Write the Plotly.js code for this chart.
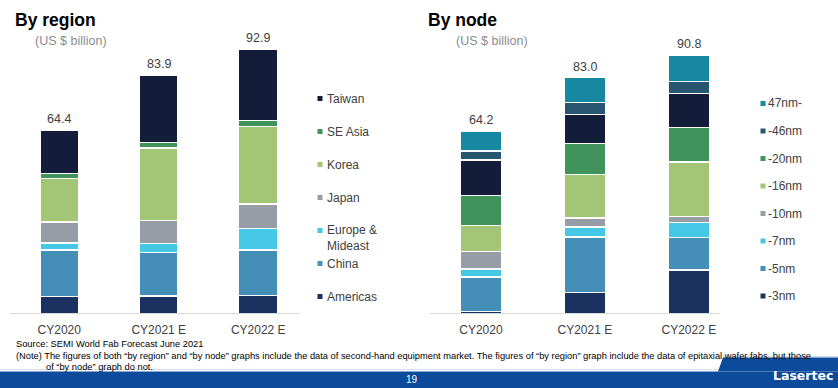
<!DOCTYPE html>
<html>
<head>
<meta charset="utf-8">
<script src="https://cdn.plot.ly/plotly-3.0.1.min.js"></script>
<style>
html,body{margin:0;padding:0;background:#ffffff;}
#chart{width:838px;height:388px;}
</style>
</head>
<body>
<div id="chart"></div>
<script>
// ---------- DATA ----------
const categories = ['CY2020', 'CY2021 E', 'CY2022 E'];

// By region (stacked bottom -> top)
const regionNames  = ['Americas', 'China', 'Europe &<br>Mideast', 'Japan', 'Korea', 'SE Asia', 'Taiwan'];
const americas     = [5.9, 6.1, 6.2];
const china        = [16.4, 15.4, 16.1];
const europeMideast= [2.5, 3.2, 7.6];
const japan        = [7.3, 7.9, 8.6];
const korea        = [15.3, 25.6, 27.2];
const seAsia       = [1.8, 2.0, 2.1];
const taiwan       = [15.2, 23.7, 25.1];
const regionTotals = [64.4, 83.9, 92.9];
const regionColors = ['#1b3160', '#458eb8', '#45c8e6', '#969da6', '#a3c676', '#41935c', '#131d3a'];

// By node (stacked bottom -> top); '-28nm' segment has no legend entry in the source
const nodeNames  = ['-3nm', '-5nm', '-7nm', '-10nm', '-16nm', '-20nm', '-28nm', '-46nm', '47nm-'];
const nm3   = [0.6, 7.2, 15.2];
const nm5   = [12.2, 19.7, 11.6];
const nm7   = [2.8, 3.5, 5.2];
const nm10  = [6.1, 3.2, 2.2];
const nm16  = [9.3, 15.2, 19.1];
const nm20  = [10.6, 10.9, 12.1];
const nm28  = [12.4, 10.3, 12.0];
const nm46  = [3.2, 4.2, 4.1];
const nm47p = [7.0, 8.8, 9.3];
const nodeTotals = [64.2, 83.0, 90.8];
const nodeColors = ['#1b3160', '#458eb8', '#45c8e6', '#969da6', '#a3c676', '#41935c', '#131d3a', '#285570', '#1688a2'];
const nodeInLegend = [true, true, true, true, true, true, false, true, true];

const regionSeries = [americas, china, europeMideast, japan, korea, seAsia, taiwan];
const nodeSeries   = [nm3, nm5, nm7, nm10, nm16, nm20, nm28, nm46, nm47p];

// ---------- LAYOUT HELPERS ----------
const W = 838, H = 388;
const px = x => x / W;
const py = y => 1 - y / H;
const FONT = 'Liberation Sans, Arial, sans-serif';
const TXT = '#404040';

const traces = [];
regionSeries.forEach((vals, i) => {
  traces.push({
    type: 'bar', x: categories, y: vals, name: regionNames[i],
    xaxis: 'x', yaxis: 'y', width: 0.39,
    marker: {color: regionColors[i], line: {color: '#ffffff', width: 1.3}},
    hoverinfo: 'skip', showlegend: false
  });
});
nodeSeries.forEach((vals, i) => {
  traces.push({
    type: 'bar', x: categories, y: vals, name: nodeNames[i],
    xaxis: 'x2', yaxis: 'y2', width: 0.395,
    marker: {color: nodeColors[i], line: {color: '#ffffff', width: 1.3}},
    hoverinfo: 'skip', showlegend: false
  });
});

const annotations = [];
const shapes = [];

// totals above bars
categories.forEach((c, i) => {
  annotations.push({x: c, y: regionTotals[i], xref: 'x', yref: 'y', text: regionTotals[i].toFixed(1),
    showarrow: false, yanchor: 'bottom', yshift: 2, font: {family: FONT, size: 12.5, color: TXT}});
  annotations.push({x: c, y: nodeTotals[i], xref: 'x2', yref: 'y2', text: nodeTotals[i].toFixed(1),
    showarrow: false, yanchor: 'bottom', yshift: 2, font: {family: FONT, size: 12.5, color: TXT}});
});

// titles
function paperText(text, x, y, font, xanchor) {
  annotations.push({text: text, x: px(x), y: py(y), xref: 'paper', yref: 'paper', showarrow: false,
    xanchor: xanchor || 'left', yanchor: 'middle', font: font, align: 'left'});
}
paperText('<b>By region</b>', 13, 20, {family: FONT, size: 17.5, color: '#000000'});
paperText('(US $ billion)', 33, 41, {family: FONT, size: 12.5, color: '#8c8c8c'});
paperText('<b>By node</b>', 426, 20, {family: FONT, size: 17.5, color: '#000000'});
paperText('(US $ billion)', 454, 41, {family: FONT, size: 12.5, color: '#8c8c8c'});

// legends (top -> bottom order = reverse stacking order)
function legendItem(name, color, sqX, txtX, y, yText) {
  shapes.push({type: 'rect', xref: 'paper', yref: 'paper', x0: px(sqX), x1: px(sqX + 5),
    y0: py(y + 2.5), y1: py(y - 2.5), fillcolor: color, line: {width: 0}});
  paperText(name, txtX, yText, {family: FONT, size: 12, color: TXT});
}
for (let k = 0; k < regionNames.length; k++) {
  const i = regionNames.length - 1 - k;
  const y = 98.5 + 33 * k;
  const multi = regionNames[i].indexOf('<br>') >= 0;
  legendItem(regionNames[i], regionColors[i], 317.5, 325, y, multi ? y + 7 : y);
}
let row = 0;
for (let k = nodeNames.length - 1; k >= 0; k--) {
  if (!nodeInLegend[k]) continue;
  const y = 103.5 + 27.5 * row;
  legendItem(nodeNames[k], nodeColors[k], 760.5, 766, y, y);
  row++;
}

// footer notes
const NOTE = {family: FONT, size: 9.3, color: '#000000'};
paperText('Source: SEMI World Fab Forecast June 2021', 14, 343.5, NOTE);
paperText('(Note) The figures of both \u201cby region\u201d and \u201cby node\u201d graphs include the data of second-hand equipment market. The figures of \u201cby region\u201d graph include the data of epitaxial wafer fabs, but those',
  14, 356, NOTE);
paperText('of \u201cby node\u201d graph do not.', 44, 367, NOTE);

// footer band
shapes.push({type: 'line', xref: 'paper', yref: 'paper', x0: 0, x1: px(720), y0: py(369.5), y1: py(369.5),
  line: {color: '#d5dbe6', width: 1}});
shapes.push({type: 'rect', xref: 'paper', yref: 'paper', x0: 0, x1: 1, y0: 0, y1: py(371.5),
  fillcolor: '#0c4a9b', line: {width: 0}});
shapes.push({type: 'path', xref: 'paper', yref: 'paper',
  path: 'M ' + px(718) + ' ' + py(371.5) + ' L ' + px(723) + ' ' + py(357.5) + ' L 1 ' + py(357.5) + ' L 1 ' + py(371.5) + ' Z',
  fillcolor: '#0c4a9b', line: {width: 0}});
shapes.push({type: 'line', xref: 'paper', yref: 'paper', x0: px(723), x1: 1, y0: py(356.5), y1: py(356.5),
  line: {color: '#d5dbe6', width: 1}});
paperText('19', 412, 379.5, {family: FONT, size: 10, color: '#ffffff'}, 'center');
paperText('<b>Lasertec</b>', 803, 375.5, {family: 'DejaVu Sans, sans-serif', size: 12.5, color: '#ffffff'}, 'center');

const yCommon = {range: [0, 100], domain: [py(313.3), py(29.3)], showgrid: false, zeroline: false,
  showticklabels: false, ticks: '', fixedrange: true};
const xCommon = {type: 'category', showgrid: false, zeroline: false, showline: true, linecolor: '#d9d9d9',
  linewidth: 1, ticks: '', ticklabelstandoff: 5, tickfont: {family: FONT, size: 12, color: TXT}, fixedrange: true};

const layout = {
  width: W, height: H,
  margin: {l: 0, r: 0, t: 0, b: 0},
  paper_bgcolor: '#ffffff', plot_bgcolor: 'rgba(0,0,0,0)',
  barmode: 'stack', bargap: 0,
  showlegend: false,
  xaxis: Object.assign({}, xCommon, {domain: [px(10), px(300)], range: [-0.495, 2.42], anchor: 'y'}),
  yaxis: Object.assign({}, yCommon, {anchor: 'x'}),
  xaxis2: Object.assign({}, xCommon, {domain: [px(430), px(720)], range: [-0.49, 2.30], anchor: 'y2'}),
  yaxis2: Object.assign({}, yCommon, {anchor: 'x2'}),
  annotations: annotations,
  shapes: shapes
};

Plotly.newPlot('chart', traces, layout, {displayModeBar: false, staticPlot: true});
</script>
</body>
</html>
